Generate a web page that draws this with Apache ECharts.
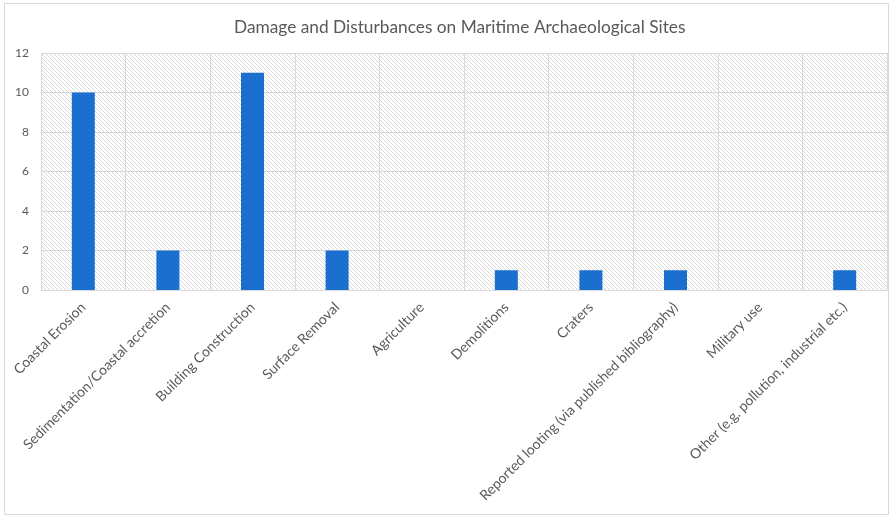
<!DOCTYPE html>
<html>
<head>
<meta charset="utf-8">
<script src="https://cdn.jsdelivr.net/npm/echarts@6/dist/echarts.min.js"></script>
<style>html,body{margin:0;padding:0;background:#fff}#c{width:891px;height:517px}</style>
</head>
<body>
<div id="c"></div>
<script>
var categories = ["Coastal Erosion", "Sedimentation/Coastal accretion", "Building Construction", "Surface Removal", "Agriculture", "Demolitions", "Craters", "Reported looting (via published bibliography)", "Military use", "Other (e.g. pollution, industrial etc.)"];
var values = [10, 2, 11, 2, 0, 1, 1, 1, 0, 1];
var yTicks = { min: 0, max: 12, interval: 2 };

var tile = document.createElement('canvas');
tile.width = 4; tile.height = 4;
var g = tile.getContext('2d');
g.fillStyle = '#ffffff'; g.fillRect(0, 0, 4, 4);
g.strokeStyle = '#d9d9d9'; g.lineWidth = 1;
g.beginPath();
g.moveTo(-1, -1); g.lineTo(5, 5);
g.moveTo(-1, 3); g.lineTo(1, 5);
g.moveTo(3, -1); g.lineTo(5, 1);
g.stroke();

var chart = echarts.init(document.getElementById('c'));
chart.setOption({
  animation: false,
  title: {
    text: 'Damage and Disturbances on Maritime Archaeological Sites',
    left: 229, top: 14,
    textStyle: { fontFamily: 'Lato', fontSize: 17.3, fontWeight: 'normal', color: '#595959' }
  },
  graphic: [{
    type: 'rect', shape: { x: 4.5, y: 3.5, width: 884, height: 511 },
    style: { fill: 'none', stroke: '#d9d9d9', lineWidth: 1 }, silent: true
  }],
  grid: {
    left: 41, right: 4, top: 53, bottom: 227,
    show: true, borderWidth: 0,
    backgroundColor: { image: tile, repeat: 'repeat' }
  },
  xAxis: {
    type: 'category', data: categories,
    axisLine: { show: true, lineStyle: { color: '#d9d9d9' } },
    axisTick: { show: false },
    splitLine: { show: true, interval: 0, lineStyle: { color: '#d9d9d9' } },
    axisLabel: { interval: 0, rotate: 45, fontFamily: 'Lato', fontSize: 14, color: '#595959', margin: 15 }
  },
  yAxis: {
    type: 'value', min: yTicks.min, max: yTicks.max, interval: yTicks.interval,
    axisLine: { show: false }, axisTick: { show: false },
    splitLine: { lineStyle: { color: '#d9d9d9' } },
    axisLabel: { fontFamily: 'Lato', fontSize: 12, color: '#595959', margin: 12 }
  },
  series: [{
    type: 'bar', data: values, barWidth: 23,
    itemStyle: { color: '#1a6fcf' }
  }]
});
</script>
</body>
</html>
